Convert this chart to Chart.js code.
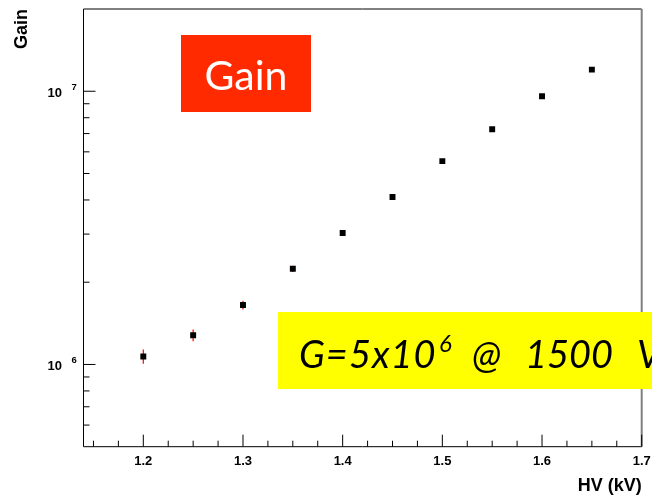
<!DOCTYPE html>
<html>
<head>
<meta charset="utf-8">
<script src="https://cdn.jsdelivr.net/npm/chart.js@4"></script>
<style>
body{margin:0;background:#fff}
canvas{display:block}
</style>
</head>
<body>
<canvas id="graficoGain" width="652" height="499"></canvas>
<script>
/** Datos */
const hv = [1.2, 1.25, 1.3, 1.35, 1.4, 1.45, 1.5, 1.55, 1.6, 1.65];
const gain = [1.07e6, 1.28e6, 1.65e6, 2.24e6, 3.03e6, 4.10e6, 5.55e6, 7.26e6, 9.59e6, 1.20e7];
const gainErr = [65000, 63000, 61000, 60000, 60000, 60000, 60000, 60000, 60000, 60000];

/** Marcas de los ejes */
const xMajor = [1.2, 1.3, 1.4, 1.5, 1.6, 1.7];
const xLabels = ["1.2", "1.3", "1.4", "1.5", "1.6", "1.7"];
const xMinor = [1.15, 1.175, 1.225, 1.25, 1.275, 1.325, 1.35, 1.375, 1.425, 1.45, 1.475,
    1.525, 1.55, 1.575, 1.625, 1.65, 1.675];
const yMajor = [1e6, 1e7];
const yExp = ["6", "7"];
const yMinor = [6e5, 7e5, 8e5, 9e5, 2e6, 3e6, 4e6, 5e6, 6e6, 7e6, 8e6, 9e6];

const fuenteEje = "'Liberation Sans', Arial, sans-serif";

const ejesRoot = {
    id: 'ejesRoot',
    beforeDatasetsDraw(chart) {
        const ctx = chart.ctx, xs = chart.scales.x, ys = chart.scales.y;
        // barras de error
        ctx.save();
        ctx.strokeStyle = '#ff0000';
        ctx.lineWidth = 1.2;
        for (let i = 0; i < hv.length; i++) {
            const px = xs.getPixelForValue(hv[i]);
            ctx.beginPath();
            ctx.moveTo(px, ys.getPixelForValue(gain[i] - gainErr[i]));
            ctx.lineTo(px, ys.getPixelForValue(gain[i] + gainErr[i]));
            ctx.stroke();
        }
        ctx.restore();
    },
    afterDraw(chart) {
        const ctx = chart.ctx, xs = chart.scales.x, ys = chart.scales.y;
        const a = chart.chartArea;
        ctx.save();
        // marco
        ctx.strokeStyle = '#000';
        ctx.lineWidth = 1;
        ctx.beginPath();
        ctx.moveTo(a.right, a.top); ctx.lineTo(a.left, a.top);
        ctx.lineTo(a.left, a.bottom); ctx.lineTo(a.right, a.bottom);
        ctx.stroke();
        ctx.strokeStyle = '#808080';
        ctx.lineWidth = 2;
        ctx.beginPath();
        ctx.moveTo(a.right, a.top); ctx.lineTo(a.right, a.bottom);
        ctx.stroke();

        // marcas hacia dentro
        ctx.strokeStyle = '#000';
        ctx.lineWidth = 1;
        ctx.beginPath();
        xMajor.forEach(v => { const p = xs.getPixelForValue(v); ctx.moveTo(p, a.bottom); ctx.lineTo(p, a.bottom - 12); });
        xMinor.forEach(v => { const p = xs.getPixelForValue(v); ctx.moveTo(p, a.bottom); ctx.lineTo(p, a.bottom - 6); });
        yMajor.forEach(v => { const p = ys.getPixelForValue(v); ctx.moveTo(a.left, p); ctx.lineTo(a.left + 12, p); });
        yMinor.forEach(v => { const p = ys.getPixelForValue(v); ctx.moveTo(a.left, p); ctx.lineTo(a.left + 6, p); });
        ctx.stroke();

        // etiquetas 10^n
        ctx.fillStyle = '#000';
        ctx.textBaseline = 'alphabetic';
        yMajor.forEach((v, i) => {
            const p = ys.getPixelForValue(v);
            ctx.font = "bold 13px " + fuenteEje;
            ctx.textAlign = 'right';
            ctx.fillText("10", 62, p + 5.7);
            ctx.font = "bold 9.5px " + fuenteEje;
            ctx.textAlign = 'left';
            ctx.fillText(yExp[i], 71.5, p - 1);
        });

        // caja roja "Gain"
        ctx.fillStyle = '#ff2a00';
        ctx.fillRect(181, 35, 130, 77);
        ctx.fillStyle = '#fff';
        ctx.font = "41px Lato, 'Open Sans', sans-serif";
        ctx.textAlign = 'center';
        ctx.fillText("Gain", 246, 90);

        // caja amarilla
        ctx.fillStyle = '#ffff00';
        ctx.fillRect(278, 312, 380, 77);
        ctx.fillStyle = '#000';
        ctx.textAlign = 'left';
        ctx.font = "italic 38px Lato, 'Open Sans', sans-serif";
        ctx.letterSpacing = '1px';
        ctx.fillText("G=5x10", 299, 368);
        ctx.letterSpacing = '0px';
        ctx.fillText("@", 472, 368);
        ctx.fillText("1500", 525, 368);
        ctx.fillText("V", 637, 368);
        ctx.font = "italic 24px Lato, 'Open Sans', sans-serif";
        ctx.fillText("6", 439, 351.5);
        ctx.restore();
    }
};

const ctx = document.getElementById("graficoGain");

new Chart(ctx, {
    type: 'scatter',
    data: {
        datasets: [{
            label: 'Gain',
            data: hv.map((x, i) => ({ x: x, y: gain[i] })),
            backgroundColor: '#000',
            borderWidth: 0,
            pointStyle: 'rect',
            pointRadius: 4.2,
            showLine: false
        }]
    },
    options: {
        responsive: false,
        animation: false,
        devicePixelRatio: 1,
        layout: { padding: { top: 9, right: 10.3, left: 0, bottom: 0 } },
        plugins: { legend: { display: false }, tooltip: { enabled: false } },
        scales: {
            x: {
                type: 'linear',
                min: 1.14,
                max: 1.7,
                afterFit: s => { s.height = 52.3; s.paddingLeft = 0; s.paddingRight = 0; },
                afterBuildTicks: s => { s.ticks = xMajor.map(v => ({ value: v })); },
                grid: { display: false, drawTicks: false },
                border: { display: false },
                ticks: {
                    autoSkip: false,
                    maxRotation: 0,
                    padding: 7,
                    color: '#000',
                    font: { family: fuenteEje, size: 13, weight: 'bold' },
                    callback: (v, i) => xLabels[i]
                },
                title: {
                    display: true,
                    text: 'HV (kV)',
                    align: 'end',
                    color: '#000',
                    padding: { top: 0, bottom: 1.7 },
                    font: { family: fuenteEje, size: 18, weight: 'bold', lineHeight: 1.2 }
                }
            },
            y: {
                type: 'logarithmic',
                min: 5e5,
                max: 2e7,
                afterFit: s => { s.width = 83.5; s.paddingTop = 0; s.paddingBottom = 0; },
                grid: { display: false, drawTicks: false },
                border: { display: false },
                ticks: { display: false },
                title: {
                    display: true,
                    text: 'Gain',
                    align: 'end',
                    color: '#000',
                    padding: { top: 11, bottom: 0 },
                    font: { family: fuenteEje, size: 18, weight: 'bold', lineHeight: 1.2 }
                }
            }
        }
    },
    plugins: [ejesRoot]
});
</script>
</body>
</html>
